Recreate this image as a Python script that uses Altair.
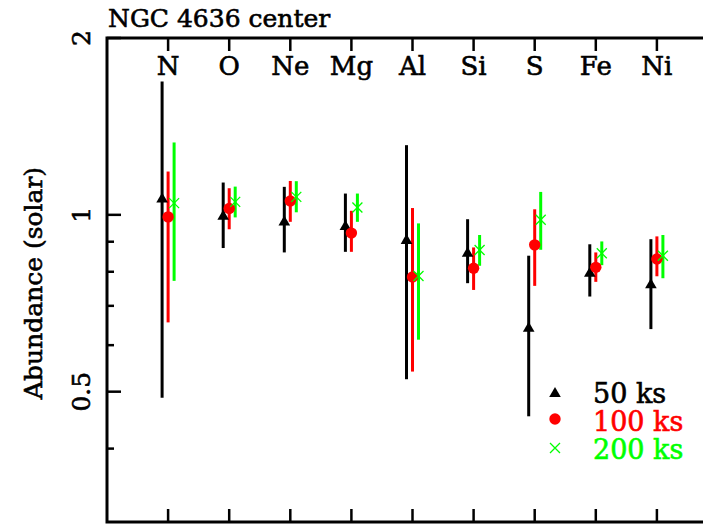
import altair as alt
import pandas as pd

FONT = "DejaVu Serif"
TSTROKE = 0.6

title_text = "NGC 4636 center"
y_title = "Abundance (solar)"
elements = ["N", "O", "Ne", "Mg", "Al", "Si", "S", "Fe", "Ni"]
series_names = ["50 ks", "100 ks", "200 ks"]
series_colors = ["#000000", "#ff0000", "#00ff00"]

val_50 = [1.07, 1.00, 0.978, 0.961, 0.910, 0.865, 0.645, 0.800, 0.765]
lo_50 = [0.488, 0.878, 0.863, 0.865, 0.525, 0.765, 0.454, 0.726, 0.639]
hi_50 = [1.686, 1.135, 1.116, 1.087, 1.314, 0.983, 0.852, 0.891, 0.909]

val_100 = [0.992, 1.025, 1.056, 0.931, 0.784, 0.811, 0.889, 0.814, 0.841]
lo_100 = [0.656, 0.945, 0.973, 0.865, 0.541, 0.745, 0.757, 0.769, 0.786]
hi_100 = [1.185, 1.110, 1.142, 1.016, 1.027, 0.880, 1.022, 0.863, 0.919]

val_200 = [1.047, 1.052, 1.073, 1.029, 0.787, 0.871, 0.981, 0.860, 0.852]
lo_200 = [0.772, 0.990, 1.010, 0.973, 0.613, 0.819, 0.872, 0.821, 0.780]
hi_200 = [1.328, 1.117, 1.141, 1.087, 0.967, 0.924, 1.094, 0.901, 0.924]

y_major_ticks = [0.5, 1.0, 2.0]
y_minor_ticks = [0.4, 0.6, 0.7, 0.8, 0.9]
y_labels = [0.5, 1, 2]

W, H = 611, 484

rows = []
for name, vals, los, his in [
    ("50 ks", val_50, lo_50, hi_50),
    ("100 ks", val_100, lo_100, hi_100),
    ("200 ks", val_200, lo_200, hi_200),
]:
    for i, el in enumerate(elements):
        rows.append(dict(element=el, pos=i + 1, series=name,
                         val=vals[i], lo=los[i], hi=his[i]))
df = pd.DataFrame(rows)
el_df = pd.DataFrame({"element": elements, "pos": list(range(1, len(elements) + 1))})
maj_df = pd.DataFrame({"v": y_major_ticks})
min_df = pd.DataFrame({"v": y_minor_ticks})
lab_df = pd.DataFrame({"v": y_labels})
leg_df = pd.DataFrame({"series": series_names})
title_df = pd.DataFrame({"t": [title_text]})
ytitle_df = pd.DataFrame({"t": [y_title]})

xscale = alt.Scale(domain=[0, 10], nice=False, zero=False)
yscale = alt.Scale(type="log", domain=[0.3, 2], nice=False)


def X(field):
    return alt.X(field, type="quantitative", scale=xscale, axis=None)


def Y(field):
    return alt.Y(field, type="quantitative", scale=yscale, axis=None)


def txt(color="black", size=26, **kw):
    return dict(font=FONT, fontSize=size, fontWeight="normal", color=color,
                stroke=color, strokeWidth=TSTROKE, baseline="alphabetic", **kw)


layers = []

offsets = [-6, 0, 6]
shapes = ["triangle-up", "circle", "M-1,-1L1,1M1,-1L-1,1"]
sizes = [135, 130, 100]
filled = [True, True, False]
for k, name in enumerate(series_names):
    base = alt.Chart(df).transform_filter(alt.datum.series == name)
    layers.append(
        base.mark_rule(color=series_colors[k], strokeWidth=3, xOffset=offsets[k]).encode(
            x=X("pos"), y=Y("lo"), y2="hi"
        )
    )
for k, name in enumerate(series_names):
    base = alt.Chart(df).transform_filter(alt.datum.series == name)
    layers.append(
        base.mark_point(shape=shapes[k], size=sizes[k], color=series_colors[k],
                        filled=filled[k], opacity=1, strokeWidth=1.3,
                        xOffset=offsets[k]).encode(x=X("pos"), y=Y("val"))
    )

# x ticks top and bottom
layers.append(alt.Chart(el_df).mark_rule(color="black", strokeWidth=2.5).encode(
    x=X("pos"), y=alt.value(0), y2=alt.value(13)))
layers.append(alt.Chart(el_df).mark_rule(color="black", strokeWidth=2.5).encode(
    x=X("pos"), y=alt.value(H), y2=alt.value(H - 13)))

# y ticks left and right
layers.append(alt.Chart(maj_df).mark_rule(color="black", strokeWidth=2.5).encode(
    y=Y("v"), x=alt.value(0), x2=alt.value(14)))
layers.append(alt.Chart(min_df).mark_rule(color="black", strokeWidth=2.5).encode(
    y=Y("v"), x=alt.value(0), x2=alt.value(7)))
layers.append(alt.Chart(maj_df).mark_rule(color="black", strokeWidth=2.5).encode(
    y=Y("v"), x=alt.value(W), x2=alt.value(W - 14)))
layers.append(alt.Chart(min_df).mark_rule(color="black", strokeWidth=2.5).encode(
    y=Y("v"), x=alt.value(W), x2=alt.value(W - 7)))

# y tick labels (rotated)
layers.append(alt.Chart(lab_df).mark_text(angle=270, align="center", **txt(size=25)).encode(
    y=Y("v"), x=alt.value(-17), text=alt.Text("v:Q", format="~g")))

# y title
layers.append(alt.Chart(ytitle_df).mark_text(angle=270, align="center", **txt(size=25)).encode(
    x=alt.value(-65), y=alt.value(245), text="t:N"))

# element labels
layers.append(alt.Chart(el_df).mark_text(align="center", **txt(size=26)).encode(
    x=X("pos"), y=alt.value(37), text="element:N"))

# title
layers.append(alt.Chart(title_df).mark_text(align="left", **txt(size=25)).encode(
    x=alt.value(1), y=alt.value(-11.5), text="t:N"))

# legend
leg_marker_y = [354, 381, 410]
leg_text_y = [365, 393, 421]
for k, name in enumerate(series_names):
    base = alt.Chart(leg_df).transform_filter(alt.datum.series == name)
    layers.append(base.mark_point(shape=shapes[k], size=sizes[k], color=series_colors[k],
                                  filled=filled[k], opacity=1, strokeWidth=1.3).encode(
        x=alt.value(448), y=alt.value(leg_marker_y[k])))
    layers.append(base.mark_text(align="left", **txt(color=series_colors[k], size=27)).encode(
        x=alt.value(486), y=alt.value(leg_text_y[k]), text="series:N"))

chart = alt.layer(*layers).properties(
    width=W, height=H,
    autosize=alt.AutoSizeParams(type="none"),
    padding={"left": 99, "top": 30, "right": -15, "bottom": 2},
).configure_view(stroke="black", strokeWidth=3)

chart.save("out.html", embed_options={"renderer": "svg", "actions": False})
